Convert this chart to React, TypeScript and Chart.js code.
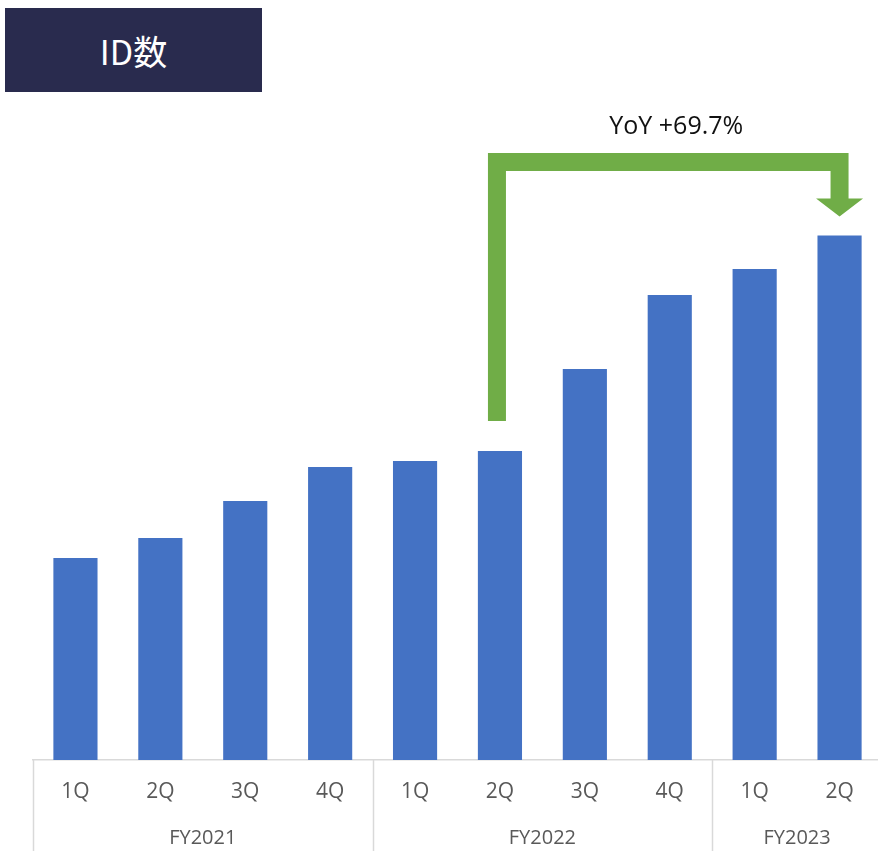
import React, { useEffect, useRef } from "react";
import { Chart, registerables } from "chart.js";

Chart.register(...registerables);

const quarters = ["1Q", "2Q", "3Q", "4Q", "1Q", "2Q", "3Q", "4Q", "1Q", "2Q"];
const fiscalYears = ["FY2021", "FY2022", "FY2023"];
const groupSizes = [4, 4, 2];
const idCounts = [202, 222, 259, 293, 299, 309, 391, 465, 491, 524.5];
const yoyLabel = "YoY +69.7%";
const yoyFrom = 5;
const yoyTo = 9;

const BAR_COLOR = "#4472C4";
const ARROW_COLOR = "#70AD47";
const LINE_COLOR = "#D9D9D9";
const TEXT_GRAY = "#595959";
const FONT = "'Open Sans', 'Noto Sans', sans-serif";

const overlayPlugin = {
  id: "overlay",
  afterDraw(chart: any) {
    const ctx = chart.ctx;
    const area = chart.chartArea;
    const bottom = chart.height;
    const catW = (area.right - area.left) / quarters.length;

    // group separators and group labels
    ctx.save();
    ctx.strokeStyle = LINE_COLOR;
    ctx.lineWidth = 1.5;
    let start = 0;
    const bounds: number[] = [0];
    groupSizes.forEach((n) => {
      start += n;
      bounds.push(start);
    });
    bounds.forEach((b) => {
      const px = Math.round(area.left + b * catW) + 0.5;
      ctx.beginPath();
      ctx.moveTo(px, area.bottom);
      ctx.lineTo(px, bottom);
      ctx.stroke();
    });
    ctx.fillStyle = TEXT_GRAY;
    ctx.font = `20px ${FONT}`;
    ctx.textAlign = "center";
    ctx.textBaseline = "middle";
    fiscalYears.forEach((fy, i) => {
      const cx = area.left + ((bounds[i] + bounds[i + 1]) / 2) * catW;
      ctx.fillText(fy, cx, area.bottom + 78);
    });
    ctx.restore();

    // YoY arrow
    const meta = chart.getDatasetMeta(0);
    const b1 = meta.data[yoyFrom];
    const b2 = meta.data[yoyTo];
    const hw = 9;
    const topY = 153;
    const band = 18;
    const headW = 23.5;
    const headBase = b2.y - 37;
    const tip = b2.y - 19;
    const stemBottom = b1.y - 30;
    const x1 = b1.x - 3;
    const x2 = b2.x;
    ctx.save();
    ctx.fillStyle = ARROW_COLOR;
    ctx.beginPath();
    ctx.moveTo(x1 - hw, stemBottom);
    ctx.lineTo(x1 - hw, topY);
    ctx.lineTo(x2 + hw, topY);
    ctx.lineTo(x2 + hw, headBase);
    ctx.lineTo(x2 + headW, headBase);
    ctx.lineTo(x2, tip);
    ctx.lineTo(x2 - headW, headBase);
    ctx.lineTo(x2 - hw, headBase);
    ctx.lineTo(x2 - hw, topY + band);
    ctx.lineTo(x1 + hw, topY + band);
    ctx.lineTo(x1 + hw, stemBottom);
    ctx.closePath();
    ctx.fill();

    ctx.fillStyle = "#111111";
    ctx.font = `25px ${FONT}`;
    ctx.textAlign = "center";
    ctx.textBaseline = "middle";
    ctx.fillText(yoyLabel, (x1 + x2) / 2 + 8, 127);
    ctx.restore();
  },
};

export default function App() {
  const ref = useRef<HTMLCanvasElement | null>(null);

  useEffect(() => {
    if (!ref.current) return;
    const chart = new Chart(ref.current, {
      type: "bar",
      data: {
        labels: quarters,
        datasets: [
          {
            data: idCounts,
            backgroundColor: BAR_COLOR,
            borderWidth: 0,
            categoryPercentage: 1,
            barPercentage: 0.52,
          },
        ],
      },
      options: {
        responsive: false,
        animation: false,
        layout: { padding: { left: 33, right: 8, top: 100, bottom: 0 } },
        plugins: {
          legend: { display: false },
          tooltip: { enabled: false },
          title: { display: false },
        },
        scales: {
          x: {
            grid: { display: false, drawTicks: false },
            border: { display: true, color: LINE_COLOR, width: 1.5 },
            ticks: {
              color: TEXT_GRAY,
              font: { family: FONT, size: 21 },
              padding: 19,
              maxRotation: 0,
              autoSkip: false,
            },
            afterFit: (scale: any) => {
              scale.height = 91;
            },
          },
          y: {
            display: false,
            min: 0,
            max: 660,
          },
        },
      },
      plugins: [overlayPlugin],
    });
    return () => chart.destroy();
  }, []);

  return (
    <div
      style={{
        position: "fixed",
        left: 0,
        top: 0,
        width: 878,
        height: 851,
        overflow: "hidden",
        background: "#fff",
      }}
    >
      <div
        style={{
          position: "absolute",
          left: 5,
          top: 8,
          width: 257,
          height: 84,
          background: "#292B4E",
          color: "#fff",
          display: "flex",
          alignItems: "center",
          justifyContent: "center",
          fontFamily: "'Noto Sans CJK JP', sans-serif",
          fontSize: 34,
          zIndex: 1,
        }}
      >
        ID数
      </div>
      <canvas
        ref={ref}
        width={890}
        height={851}
        style={{ position: "absolute", left: 0, top: 0, display: "block" }}
      />
    </div>
  );
}
